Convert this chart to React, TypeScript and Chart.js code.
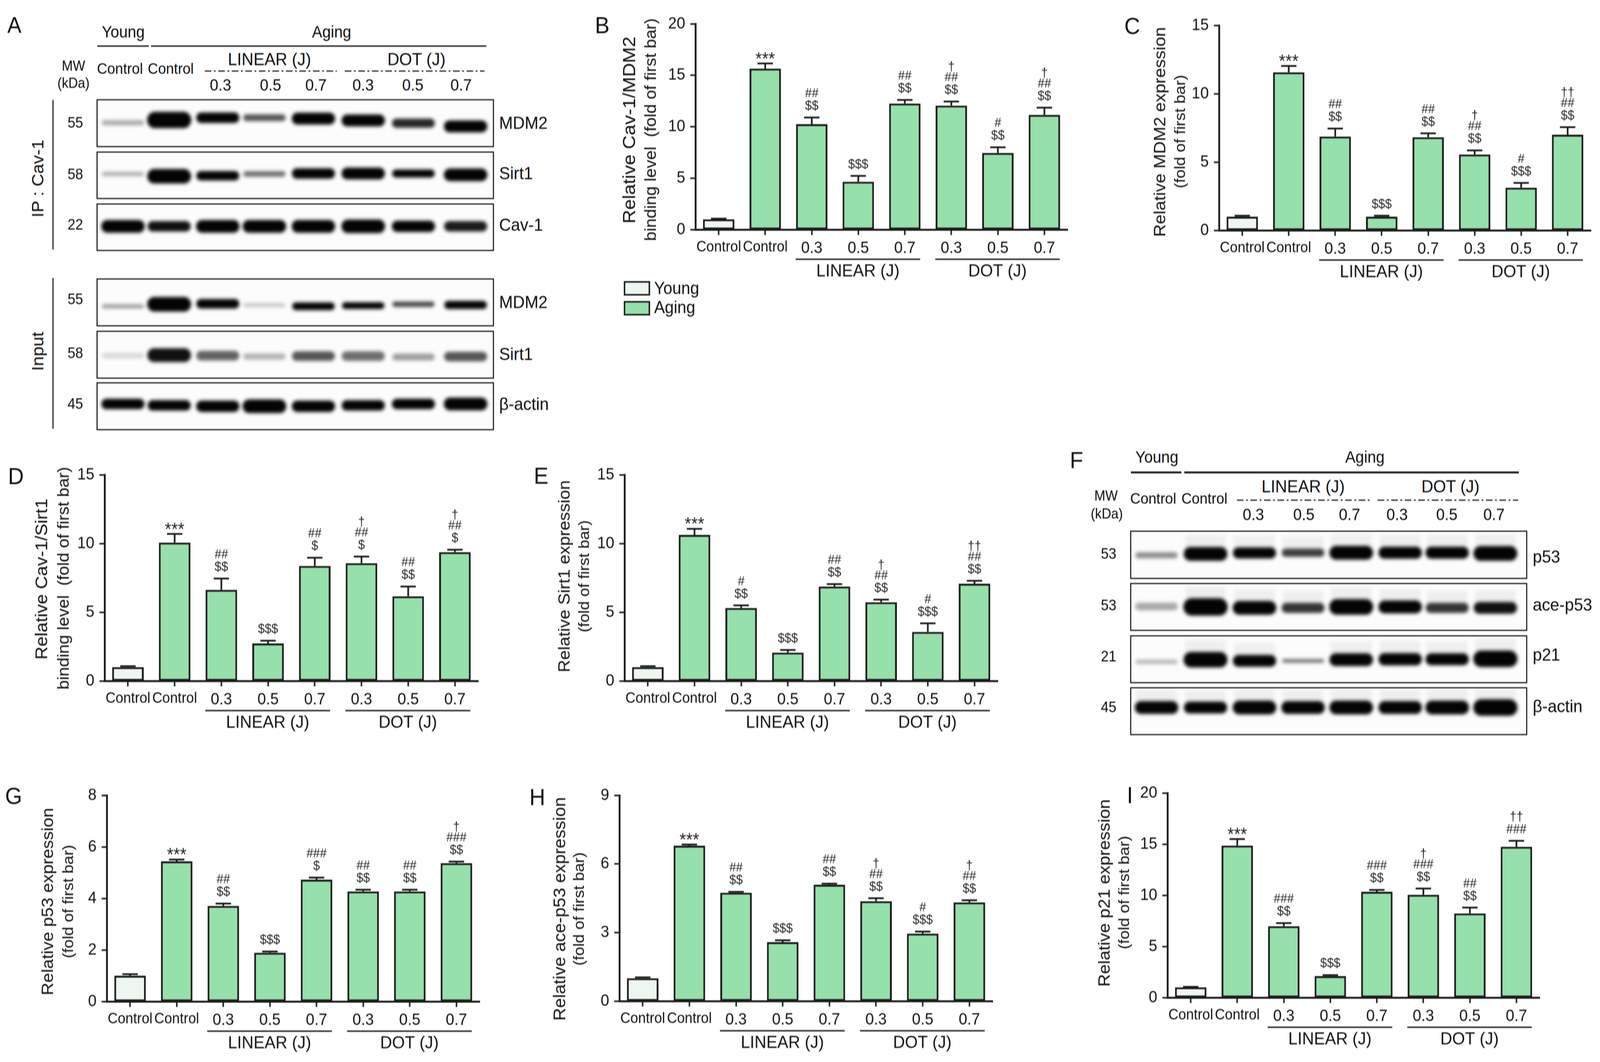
import React, { useEffect, useRef } from "react";
import { Chart, registerables } from "chart.js";

Chart.register(...registerables);

const FONT = '"Liberation Sans", Arial, sans-serif';
const INK = "#1b1b1b";
const YOUNG_FILL = "#EDF7F0";
const AGING_FILL = "#96E0AB";
const DESIGN_W = 4376;
const DESIGN_H = 2720;

// ---------- bar chart data ----------
const xLabels = ["Control", "Control", "0.3", "0.5", "0.7", "0.3", "0.5", "0.7"];
const groupLabels = ["LINEAR (J)", "DOT (J)"];
const legendLabels = ["Young", "Aging"];

const bValues = [1, 15.65, 10.25, 4.65, 12.25, 12.05, 7.45, 11.15];
const bUpper = [1.06, 16.15, 10.9, 5.22, 12.6, 12.45, 8.0, 11.85];
const bMarks = [[], ["***"], ["$$", "##"], ["$$$"], ["$$", "##"], ["$$", "##", "†"], ["$$", "#"], ["$$", "##", "†"]];

const cValues = [1, 11.57, 6.87, 1, 6.82, 5.55, 3.12, 7.0];
const cUpper = [1.07, 12.03, 7.45, 1.07, 7.1, 5.85, 3.47, 7.55];
const cMarks = [[], ["***"], ["$$", "##"], ["$$$"], ["$$", "##"], ["$$", "##", "†"], ["$$$", "#"], ["$$", "##", "††"]];

const dValues = [1, 10.07, 6.63, 2.73, 8.37, 8.57, 6.16, 9.37];
const dUpper = [1.07, 10.7, 7.45, 2.93, 8.97, 9.05, 6.87, 9.55];
const dMarks = [[], ["***"], ["$$", "##"], ["$$$"], ["$", "##"], ["$", "##", "†"], ["$$", "##"], ["$", "##", "†"]];

const eValues = [1, 10.63, 5.31, 2.06, 6.87, 5.73, 3.57, 7.08];
const eUpper = [1.07, 11.07, 5.5, 2.25, 7.05, 5.92, 4.19, 7.29];
const eMarks = [[], ["***"], ["$$", "#"], ["$$$"], ["$$", "##"], ["$$", "##", "†"], ["$$$", "#"], ["$$", "##", "††"]];

const gValues = [1, 5.44, 3.71, 1.89, 4.73, 4.27, 4.27, 5.37];
const gUpper = [1.06, 5.51, 3.8, 1.94, 4.81, 4.34, 4.34, 5.43];
const gMarks = [[], ["***"], ["$$", "##"], ["$$$"], ["$", "###"], ["$$", "##"], ["$$", "##"], ["$$", "###", "†"]];

const hValues = [1, 6.8, 4.74, 2.58, 5.09, 4.37, 2.95, 4.32];
const hUpper = [1.04, 6.85, 4.78, 2.66, 5.14, 4.5, 3.04, 4.41];
const hMarks = [[], ["***"], ["$$", "##"], ["$$$"], ["$$", "##"], ["$$", "##", "†"], ["$$$", "#"], ["$$", "##", "†"]];

const iValues = [1, 14.86, 6.98, 2.1, 10.35, 10.05, 8.23, 14.75];
const iUpper = [1.05, 15.5, 7.28, 2.2, 10.53, 10.66, 8.8, 15.33];
const iMarks = [[], ["***"], ["$$", "###"], ["$$$"], ["$$", "###"], ["$$", "###", "†"], ["$$", "##"], ["###", "††"]];

// ---------- blot data (band centre, band thickness, density per lane; fractions of the strip) ----------
const laneA = [0.064, 0.181, 0.304, 0.422, 0.546, 0.672, 0.799, 0.931];
const laneF = [0.064, 0.188, 0.312, 0.435, 0.557, 0.681, 0.8, 0.922];

const ipMdm2Pos = [0.49, 0.43, 0.38, 0.38, 0.4, 0.44, 0.5, 0.57];
const ipMdm2Size = [0.11, 0.36, 0.23, 0.15, 0.26, 0.26, 0.2, 0.26];
const ipMdm2Density = [0.3, 1, 1, 0.65, 1, 1, 0.85, 1];

const ipSirt1Pos = [0.47, 0.52, 0.51, 0.47, 0.46, 0.46, 0.46, 0.49];
const ipSirt1Size = [0.09, 0.32, 0.21, 0.12, 0.23, 0.26, 0.18, 0.28];
const ipSirt1Density = [0.28, 1, 1, 0.55, 1, 1, 1, 1];

const ipCavPos = [0.48, 0.48, 0.48, 0.48, 0.48, 0.48, 0.48, 0.48];
const ipCavSize = [0.28, 0.23, 0.28, 0.28, 0.28, 0.3, 0.25, 0.23];
const ipCavDensity = [1, 0.95, 1, 1, 1, 1, 1, 0.9];

const inMdm2Pos = [0.585, 0.54, 0.53, 0.56, 0.585, 0.57, 0.54, 0.555];
const inMdm2Size = [0.09, 0.32, 0.21, 0.08, 0.17, 0.15, 0.12, 0.18];
const inMdm2Density = [0.35, 1, 1, 0.18, 1, 1, 0.7, 1];

const inSirt1Pos = [0.52, 0.51, 0.52, 0.54, 0.53, 0.53, 0.55, 0.54];
const inSirt1Size = [0.12, 0.3, 0.21, 0.14, 0.21, 0.21, 0.15, 0.21];
const inSirt1Density = [0.1, 0.95, 0.6, 0.25, 0.65, 0.55, 0.35, 0.65];

const inActinPos = [0.45, 0.48, 0.5, 0.5, 0.5, 0.48, 0.45, 0.45];
const inActinSize = [0.23, 0.23, 0.25, 0.3, 0.25, 0.23, 0.23, 0.28];
const inActinDensity = [1, 1, 1, 1, 1, 1, 1, 1];

const p53Pos = [0.51, 0.48, 0.46, 0.455, 0.455, 0.455, 0.455, 0.47];
const p53Size = [0.13, 0.3, 0.24, 0.18, 0.3, 0.26, 0.26, 0.32];
const p53Density = [0.42, 1, 1, 0.75, 1, 1, 1, 1];

const aceP53Pos = [0.49, 0.5, 0.52, 0.52, 0.5, 0.5, 0.52, 0.52];
const aceP53Size = [0.17, 0.38, 0.3, 0.22, 0.34, 0.28, 0.22, 0.26];
const aceP53Density = [0.3, 1, 1, 0.8, 1, 1, 0.8, 0.95];

const p21Pos = [0.555, 0.51, 0.535, 0.535, 0.51, 0.5, 0.5, 0.49];
const p21Size = [0.09, 0.34, 0.26, 0.08, 0.28, 0.27, 0.26, 0.36];
const p21Density = [0.25, 1, 1, 0.55, 1, 1, 1, 1];

const fActinPos = [0.42, 0.42, 0.42, 0.42, 0.42, 0.42, 0.42, 0.42];
const fActinSize = [0.28, 0.26, 0.3, 0.28, 0.3, 0.28, 0.3, 0.36];
const fActinDensity = [1, 1, 1, 1, 1, 1, 1, 1];

// ---------- panels ----------
type TitleLine = { text: string; x: number; y: number; size: number };
type Panel = {
  left: number; right: number; top: number; bottom: number;
  max: number; step: number;
  values: number[]; upper: number[]; marks: string[][];
  titles: TitleLine[]; legend?: boolean;
};

const panels: Panel[] = [
  { left: 1902, right: 2920, top: 52, bottom: 588, max: 20, step: 5, values: bValues, upper: bUpper, marks: bMarks, legend: true,
    titles: [{ text: "Relative Cav-1/MDM2", x: 1723, y: 333, size: 49 }, { text: "binding level  (fold of first bar)", x: 1782, y: 332, size: 43.5 }] },
  { left: 3334, right: 4351, top: 56, bottom: 590, max: 15, step: 5, values: cValues, upper: cUpper, marks: cMarks,
    titles: [{ text: "Relative MDM2 expression", x: 3175, y: 338, size: 45 }, { text: "(fold of first bar)", x: 3230, y: 337, size: 41.5 }] },
  { left: 286, right: 1308, top: 1207, bottom: 1744, max: 15, step: 5, values: dValues, upper: dUpper, marks: dMarks,
    titles: [{ text: "Relative Cav-1/Sirt1", x: 116, y: 1483, size: 46.4 }, { text: "binding level  (fold of first bar)", x: 176, y: 1481, size: 43.5 }] },
  { left: 1708, right: 2729, top: 1207, bottom: 1744, max: 15, step: 5, values: eValues, upper: eUpper, marks: eMarks,
    titles: [{ text: "Relative Sirt1 expression", x: 1546, y: 1476, size: 44.5 }, { text: "(fold of first bar)", x: 1600, y: 1476, size: 41 }] },
  { left: 292, right: 1312, top: 2028, bottom: 2565, max: 8, step: 2, values: gValues, upper: gUpper, marks: gMarks,
    titles: [{ text: "Relative p53 expression", x: 133, y: 2309, size: 45 }, { text: "(fold of first bar)", x: 189, y: 2309, size: 41.5 }] },
  { left: 1694, right: 2715, top: 2028, bottom: 2564, max: 9, step: 3, values: hValues, upper: hUpper, marks: hMarks,
    titles: [{ text: "Relative ace-p53 expression", x: 1533, y: 2328, size: 45.4 }, { text: "(fold of first bar)", x: 1586, y: 2328, size: 41.5 }] },
  { left: 3193, right: 4211, top: 2022, bottom: 2555, max: 20, step: 5, values: iValues, upper: iUpper, marks: iMarks,
    titles: [{ text: "Relative p21 expression", x: 3023, y: 2287, size: 45 }, { text: "(fold of first bar)", x: 3077, y: 2286, size: 41.5 }] },
];

function BarPanel({ p }: { p: Panel }) {
  const ref = useRef<HTMLCanvasElement>(null);
  const padL = Math.min(300, p.left);
  const padT = 30;
  const padR = 20;
  const padB = p.legend ? 240 : 150;
  const cx = p.left - padL;
  const cy = p.top - padT;
  const w = padL + (p.right - p.left) + padR;
  const h = padT + (p.bottom - p.top) + padB;

  useEffect(() => {
    const overlay = {
      id: "panelOverlay",
      afterDatasetsDraw(chart: any) {
        const { ctx } = chart;
        const xs = chart.scales.x;
        const ys = chart.scales.y;
        ctx.save();
        // error bars and significance marks
        p.values.forEach((v, i) => {
          const x = xs.getPixelForTick(i);
          const top = ys.getPixelForValue(v);
          const up = ys.getPixelForValue(p.upper[i]);
          ctx.strokeStyle = INK;
          ctx.lineWidth = 4.5;
          ctx.beginPath();
          ctx.moveTo(x, top);
          ctx.lineTo(x, up);
          ctx.moveTo(x - 21, up);
          ctx.lineTo(x + 21, up);
          ctx.stroke();
          ctx.fillStyle = "#222";
          ctx.textAlign = "center";
          const offsets = [29, 61, 88];
          p.marks[i].forEach((m, k) => {
            if (m === "***") {
              ctx.font = `46px ${FONT}`;
              ctx.textBaseline = "alphabetic";
              ctx.fillText(m, x, up + 3);
            } else {
              ctx.font = `33px ${FONT}`;
              ctx.textBaseline = "middle";
              ctx.fillText(m, x, up - offsets[k]);
            }
          });
        });
        // group brackets under the axis
        const base = ys.getPixelForValue(0);
        ctx.strokeStyle = INK;
        ctx.lineWidth = 3.5;
        ctx.fillStyle = "#111";
        ctx.textAlign = "center";
        ctx.textBaseline = "middle";
        ctx.font = `45px ${FONT}`;
        [[2, 4], [5, 7]].forEach(([a, b], g) => {
          const x0 = xs.getPixelForTick(a) - 44;
          const x1 = xs.getPixelForTick(b) + 42;
          ctx.beginPath();
          ctx.moveTo(x0, base + 76);
          ctx.lineTo(x1, base + 76);
          ctx.stroke();
          ctx.fillText(groupLabels[g], (x0 + x1) / 2, base + 108);
        });
        // axis titles
        p.titles.forEach((t) => {
          ctx.save();
          ctx.translate(t.x - cx, t.y - cy);
          ctx.rotate(-Math.PI / 2);
          ctx.font = `${t.size}px ${FONT}`;
          ctx.fillStyle = "#111";
          ctx.fillText(t.text, 0, 0);
          ctx.restore();
        });
        // legend
        if (p.legend) {
          [[722, YOUNG_FILL, 741], [773, AGING_FILL, 790]].forEach(([y, fill, ty]: any, k) => {
            ctx.fillStyle = fill;
            ctx.strokeStyle = INK;
            ctx.lineWidth = 4;
            ctx.fillRect(1708 - cx, y - cy, 68, 33);
            ctx.strokeRect(1708 - cx, y - cy, 68, 33);
            ctx.fillStyle = "#111";
            ctx.textAlign = "left";
            ctx.textBaseline = "middle";
            ctx.font = `44px ${FONT}`;
            ctx.fillText(legendLabels[k], 1789 - cx, ty - cy);
          });
        }
        ctx.restore();
      },
    };
    const chart = new Chart(ref.current!, {
      type: "bar",
      data: {
        labels: xLabels,
        datasets: [
          {
            data: p.values,
            backgroundColor: p.values.map((_, i) => (i === 0 ? YOUNG_FILL : AGING_FILL)),
            borderColor: INK,
            borderWidth: 5,
            borderSkipped: false,
            barPercentage: 0.675,
            categoryPercentage: 1,
          },
        ],
      },
      options: {
        animation: false,
        responsive: false,
        devicePixelRatio: 1,
        layout: { padding: { top: padT, right: padR, left: 0, bottom: 0 } },
        plugins: { legend: { display: false }, tooltip: { enabled: false } },
        scales: {
          x: {
            afterFit: (s: any) => { s.height = padB; },
            grid: { drawOnChartArea: false, tickLength: 14, tickWidth: 4, tickColor: INK, offset: false },
            border: { color: INK, width: 5 },
            ticks: {
              autoSkip: false, maxRotation: 0, minRotation: 0, padding: 9, color: "#111",
              font: (c: any) => ({ family: FONT, size: c.tick && c.tick.label === "Control" ? 38 : 42 }),
            },
          },
          y: {
            min: 0, max: p.max,
            afterFit: (s: any) => { s.width = padL; },
            grid: { drawOnChartArea: false, tickLength: 14, tickWidth: 4, tickColor: INK },
            border: { color: INK, width: 5 },
            ticks: { stepSize: p.step, padding: 14, color: "#111", font: { family: FONT, size: 42 } },
          },
        },
      } as any,
      plugins: [overlay],
    } as any);
    return () => chart.destroy();
  }, []);

  return <canvas ref={ref} width={w} height={h} style={{ position: "absolute", left: cx, top: cy, width: w, height: h }} />;
}

type Strip = { x0: number; x1: number; y0: number; y1: number; lanes: number[]; pos: number[]; size: number[]; density: number[]; smear?: boolean };

const strips: Strip[] = [
  { x0: 266, x1: 1347, y0: 256, y1: 373, lanes: laneA, pos: ipMdm2Pos, size: ipMdm2Size, density: ipMdm2Density },
  { x0: 266, x1: 1347, y0: 390, y1: 506, lanes: laneA, pos: ipSirt1Pos, size: ipSirt1Size, density: ipSirt1Density },
  { x0: 266, x1: 1347, y0: 523, y1: 639, lanes: laneA, pos: ipCavPos, size: ipCavSize, density: ipCavDensity },
  { x0: 266, x1: 1347, y0: 715, y1: 832, lanes: laneA, pos: inMdm2Pos, size: inMdm2Size, density: inMdm2Density },
  { x0: 266, x1: 1347, y0: 849, y1: 966, lanes: laneA, pos: inSirt1Pos, size: inSirt1Size, density: inSirt1Density },
  { x0: 266, x1: 1347, y0: 981, y1: 1098, lanes: laneA, pos: inActinPos, size: inActinSize, density: inActinDensity },
  { x0: 3093, x1: 4173, y0: 1361, y1: 1479, lanes: laneF, pos: p53Pos, size: p53Size, density: p53Density, smear: true },
  { x0: 3093, x1: 4173, y0: 1495, y1: 1612, lanes: laneF, pos: aceP53Pos, size: aceP53Size, density: aceP53Density, smear: true },
  { x0: 3093, x1: 4173, y0: 1629, y1: 1746, lanes: laneF, pos: p21Pos, size: p21Size, density: p21Density, smear: true },
  { x0: 3093, x1: 4173, y0: 1762, y1: 1879, lanes: laneF, pos: fActinPos, size: fActinSize, density: fActinDensity, smear: true },
];

function BlotStrip({ s }: { s: Strip }) {
  const ref = useRef<HTMLCanvasElement>(null);
  const w = s.x1 - s.x0;
  const h = s.y1 - s.y0;
  useEffect(() => {
    const halfLane = 0.052;
    const datasets: any[] = [];
    s.lanes.forEach((c, i) => {
      const px = s.size[i] * h;
      const capFrac = px / 2 / w;
      const hw = Math.max(halfLane - capFrac * 0.8, 0.005);
      const shade = Math.round(4 + (1 - s.density[i]) * 235);
      datasets.push({
        data: [{ x: c - hw, y: s.pos[i] }, { x: c + hw, y: s.pos[i] }],
        borderColor: `rgb(${shade},${shade},${shade})`,
        borderWidth: px,
        borderCapStyle: "round",
        pointRadius: 0,
        clip: false,
      });
      if (s.smear && s.density[i] > 0.7) {
        datasets.push({
          data: [{ x: c - halfLane, y: s.pos[i] - s.size[i] / 2 - 0.13 }, { x: c + halfLane, y: s.pos[i] - s.size[i] / 2 - 0.13 }],
          borderColor: "rgba(0,0,0,0.05)",
          borderWidth: 0.26 * h,
          pointRadius: 0,
          clip: false,
        });
      }
    });
    const chart = new Chart(ref.current!, {
      type: "line",
      data: { datasets },
      options: {
        animation: false,
        responsive: false,
        devicePixelRatio: 1,
        layout: { padding: 0 },
        plugins: { legend: { display: false }, tooltip: { enabled: false } },
        scales: {
          x: { type: "linear", min: 0, max: 1, display: false },
          y: { type: "linear", min: 0, max: 1, reverse: true, display: false },
        },
      } as any,
    } as any);
    return () => chart.destroy();
  }, []);
  return (
    <div style={{ position: "absolute", left: s.x0 - 2, top: s.y0 - 2, width: w, height: h, border: "3px solid #1b1b1b", background: "#fcfcfc", overflow: "hidden" }}>
      <canvas ref={ref} width={w} height={h} style={{ display: "block", width: w, height: h, filter: "blur(5px)" }} />
    </div>
  );
}

// ---------- text around the blots ----------
type Lbl = { t: string; x: number; y: number; s: number; a?: "l" | "c"; r?: boolean };
const labels: Lbl[] = [
  { t: "A", x: 20, y: 64, s: 58, a: "l" }, { t: "B", x: 1627, y: 65, s: 60, a: "l" }, { t: "C", x: 3075, y: 67, s: 60, a: "l" },
  { t: "D", x: 22, y: 1220, s: 60, a: "l" }, { t: "E", x: 1460, y: 1219, s: 60, a: "l" }, { t: "F", x: 2926, y: 1179, s: 60, a: "l" },
  { t: "G", x: 14, y: 2039, s: 60, a: "l" }, { t: "H", x: 1448, y: 2042, s: 60, a: "l" }, { t: "I", x: 3082, y: 2037, s: 60, a: "l" },
  // panel A
  { t: "Young", x: 337, y: 82, s: 42 }, { t: "Aging", x: 907, y: 82, s: 42 },
  { t: "MW", x: 201, y: 169, s: 36 }, { t: "(kDa)", x: 201, y: 213, s: 36 },
  { t: "Control", x: 328, y: 175, s: 39 }, { t: "Control", x: 467, y: 175, s: 39 },
  { t: "LINEAR (J)", x: 737, y: 151, s: 45 }, { t: "DOT (J)", x: 1139, y: 151, s: 45 },
  { t: "0.3", x: 603, y: 218, s: 42 }, { t: "0.5", x: 740, y: 218, s: 42 }, { t: "0.7", x: 864, y: 218, s: 42 },
  { t: "0.3", x: 993, y: 218, s: 42 }, { t: "0.5", x: 1129, y: 218, s: 42 }, { t: "0.7", x: 1261, y: 218, s: 42 },
  { t: "55", x: 206, y: 314, s: 38 }, { t: "58", x: 206, y: 446, s: 38 }, { t: "22", x: 206, y: 575, s: 38 },
  { t: "55", x: 206, y: 766, s: 38 }, { t: "58", x: 206, y: 904, s: 38 }, { t: "45", x: 206, y: 1034, s: 38 },
  { t: "MDM2", x: 1365, y: 314, s: 45, a: "l" }, { t: "Sirt1", x: 1365, y: 443, s: 45, a: "l" }, { t: "Cav-1", x: 1365, y: 575, s: 45, a: "l" },
  { t: "MDM2", x: 1365, y: 773, s: 45, a: "l" }, { t: "Sirt1", x: 1365, y: 906, s: 45, a: "l" }, { t: "β-actin", x: 1365, y: 1034, s: 45, a: "l" },
  { t: "IP : Cav-1", x: 103, y: 457, s: 45, r: true }, { t: "Input", x: 103, y: 900, s: 45, r: true },
  // panel F
  { t: "Young", x: 3164, y: 1171, s: 42 }, { t: "Aging", x: 3733, y: 1171, s: 42 },
  { t: "MW", x: 3025, y: 1270, s: 36 }, { t: "(kDa)", x: 3027, y: 1316, s: 36 },
  { t: "Control", x: 3154, y: 1276, s: 39 }, { t: "Control", x: 3294, y: 1276, s: 39 },
  { t: "LINEAR (J)", x: 3564, y: 1245, s: 45 }, { t: "DOT (J)", x: 3967, y: 1245, s: 45 },
  { t: "0.3", x: 3428, y: 1318, s: 42 }, { t: "0.5", x: 3566, y: 1318, s: 42 }, { t: "0.7", x: 3691, y: 1318, s: 42 },
  { t: "0.3", x: 3821, y: 1318, s: 42 }, { t: "0.5", x: 3957, y: 1318, s: 42 }, { t: "0.7", x: 4086, y: 1318, s: 42 },
  { t: "53", x: 3032, y: 1418, s: 38 }, { t: "53", x: 3032, y: 1550, s: 38 }, { t: "21", x: 3032, y: 1681, s: 38 }, { t: "45", x: 3032, y: 1811, s: 38 },
  { t: "p53", x: 4192, y: 1425, s: 45, a: "l" }, { t: "ace-p53", x: 4192, y: 1548, s: 45, a: "l" },
  { t: "p21", x: 4192, y: 1676, s: 45, a: "l" }, { t: "β-actin", x: 4192, y: 1808, s: 45, a: "l" },
];

type Seg = { x1: number; y1: number; x2: number; y2: number; w: number; dash?: boolean };
const segs: Seg[] = [
  { x1: 266, y1: 118, x2: 407, y2: 118, w: 3.5 }, { x1: 413, y1: 118, x2: 1330, y2: 118, w: 3.5 },
  { x1: 560, y1: 182, x2: 921, y2: 182, w: 3, dash: true }, { x1: 943, y1: 182, x2: 1325, y2: 182, w: 3, dash: true },
  { x1: 145, y1: 256, x2: 145, y2: 639, w: 3 }, { x1: 145, y1: 712, x2: 145, y2: 1098, w: 3 },
  { x1: 3093, y1: 1210, x2: 3231, y2: 1210, w: 5 }, { x1: 3239, y1: 1210, x2: 4154, y2: 1210, w: 5 },
  { x1: 3383, y1: 1281, x2: 3747, y2: 1281, w: 3, dash: true }, { x1: 3768, y1: 1281, x2: 4152, y2: 1281, w: 3, dash: true },
];

export default function App() {
  // The window may be narrower than the 4376 design width: fit the whole figure to it.
  const fitX = Math.min(1, window.innerWidth / DESIGN_W);
  return (
    <div style={{ position: "absolute", left: 0, top: 0, width: DESIGN_W, height: DESIGN_H, background: "#fff", overflow: "hidden", fontFamily: FONT, color: "#111", transformOrigin: "0 0", transform: `scale(${fitX},1)`, filter: "blur(0.8px)" }}>
      <svg width={DESIGN_W} height={DESIGN_H} style={{ position: "absolute", left: 0, top: 0 }}>
        {segs.map((s, i) => (
          <line key={i} x1={s.x1} y1={s.y1} x2={s.x2} y2={s.y2} stroke={INK} strokeWidth={s.w} strokeDasharray={s.dash ? "18 7 5 7" : undefined} />
        ))}
      </svg>
      {labels.map((l, i) => (
        <div
          key={i}
          style={{
            position: "absolute",
            left: l.x,
            top: l.y,
            fontSize: l.s,
            lineHeight: 1,
            whiteSpace: "nowrap",
            transform: l.r ? "translate(-50%,-50%) rotate(-90deg)" : l.a === "l" ? "translateY(-50%)" : "translate(-50%,-50%)",
          }}
        >
          {l.t}
        </div>
      ))}
      {strips.map((s, i) => <BlotStrip key={i} s={s} />)}
      {panels.map((p, i) => <BarPanel key={i} p={p} />)}
    </div>
  );
}
